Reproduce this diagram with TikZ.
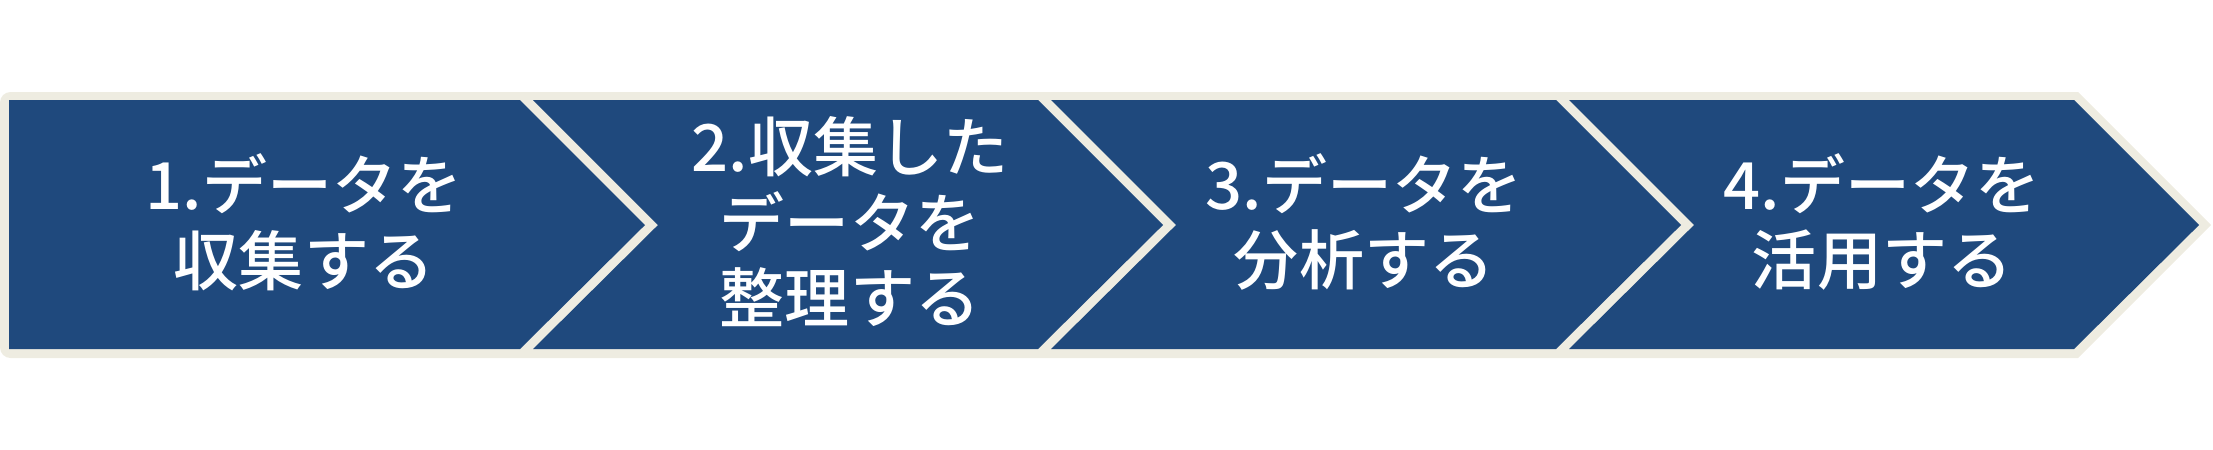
\documentclass[tikz,border=0pt]{standalone}
\usepackage{fontspec}
\setmainfont{Noto Sans CJK JP}[UprightFont=* Medium]
\usepackage{xcolor}
\usepackage{tikz}
\usetikzlibrary{positioning}

\definecolor{stageblue}{HTML}{1F497D}
\definecolor{stagecream}{HTML}{EEECE1}

\tikzset{
  stage/.style={fill=stageblue},
  stagelabel/.style={text=white, align=center, inner sep=0pt,
    font=\fontsize{18.5}{21.5}\selectfont},
}

\begin{document}
\begin{tikzpicture}[x=0.1mm,y=-0.1mm]
  \useasboundingbox (0,0) rectangle (2213,449);
  % cream frame behind the chevrons
  \fill [stagecream] (0,225) [rounded corners=3] -- (0,92) [sharp corners] -- (2078,92)
    -- (2211,225) -- (2078,358) [rounded corners=3] -- (0,358) [sharp corners] -- cycle;
  % first stage, flat left side
  \fill [stage] (9,100) -- (520,100) -- (645,225) -- (520,349) -- (9,349) -- cycle;
  % the three chevrons after it
  \foreach \d in {0,518,1036}
    \fill [stage] (533+\d,100) -- (1038+\d,100) -- (1163+\d,225)
      -- (1038+\d,349) -- (533+\d,349) -- (658+\d,225) -- cycle;
  \node [stagelabel] (collect)  at (304,222)  {1.データを\\収集する};
  \node [stagelabel] (organize) at (850,222)  {2.収集した\\データを\\整理する};
  \node [stagelabel] (analyze)  at (1364,222) {3.データを\\分析する};
  \node [stagelabel] (apply)    at (1882,222) {4.データを\\活用する};
\end{tikzpicture}
\end{document}
